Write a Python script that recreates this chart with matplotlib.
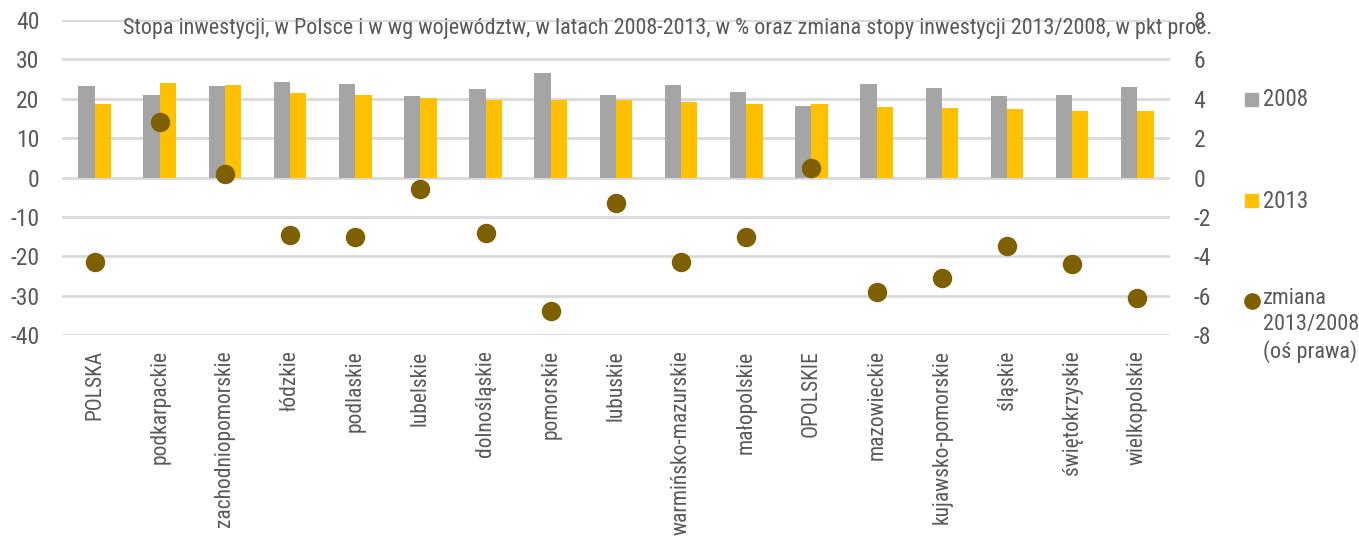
import matplotlib
matplotlib.use("Agg")
import matplotlib.pyplot as plt
import numpy as np
from matplotlib.patches import Rectangle

plt.rcParams['font.family'] = ['Roboto Condensed', 'DejaVu Sans']
plt.rcParams['axes.unicode_minus'] = False

regions = ["POLSKA", "podkarpackie", "zachodniopomorskie", "łódzkie", "podlaskie",
           "lubelskie", "dolnośląskie", "pomorskie", "lubuskie", "warmińsko-mazurskie",
           "małopolskie", "OPOLSKIE", "mazowieckie", "kujawsko-pomorskie", "śląskie",
           "świętokrzyskie", "wielkopolskie"]
rate_2008 = [23.2, 21.1, 23.3, 24.3, 23.7, 20.7, 22.6, 26.5, 20.9, 23.6,
             21.7, 18.2, 23.7, 22.8, 20.8, 21.1, 22.9]
rate_2013 = [18.8, 24.0, 23.6, 21.4, 20.9, 20.2, 19.8, 19.7, 19.7, 19.3,
             18.7, 18.7, 17.9, 17.6, 17.3, 16.8, 16.8]
change = [-4.3, 2.8, 0.2, -2.9, -3.0, -0.6, -2.8, -6.8, -1.3, -4.3,
          -3.0, 0.5, -5.8, -5.1, -3.5, -4.4, -6.1]

title = ("Stopa inwestycji, w Polsce i w wg województw, w latach 2008-2013, w % "
         "oraz zmiana stopy inwestycji 2013/2008, w pkt proc.")

GRAY = "#A5A5A5"
YELLOW = "#FFC000"
OLIVE = "#7F6000"
TXT = "#595959"
GRID = "#D9D9D9"

fig = plt.figure(figsize=(13.59, 5.41), dpi=100)
ax = fig.add_axes([0.0456, 0.3808, 0.8153, 0.582])
ax2 = ax.twinx()

x = np.arange(len(regions))
w = 0.25
ax.bar(x - w / 2, rate_2008, w, color=GRAY, zorder=2)
ax.bar(x + w / 2, rate_2013, w, color=YELLOW, zorder=2)
ax2.plot(x, change, 'o', color=OLIVE, markersize=13, zorder=3)

ax.set_xlim(-0.5, len(regions) - 0.5)
ax.set_ylim(-40, 40)
ax.set_yticks(np.arange(-40, 41, 10))
ax2.set_ylim(-8, 8)
ax2.set_yticks(np.arange(-8, 9, 2))

ax.yaxis.grid(True, color=GRID, linewidth=2, zorder=0)
ax.set_axisbelow(True)
for a in (ax, ax2):
    for s in a.spines.values():
        s.set_visible(False)

ax.set_xticks(x)
ax.set_xticklabels(regions, rotation=90, va='top', ha='center')
ax.tick_params(axis='x', length=0, pad=11, labelsize=15.5, labelcolor=TXT)
ax.tick_params(axis='y', length=0, pad=16, labelsize=17, labelcolor=TXT)
ax2.tick_params(axis='y', length=0, pad=17, labelsize=17, labelcolor=TXT)

fig.text(0.491, 0.948, title, ha='center', va='center', fontsize=15.9, color=TXT)

# legend drawn by hand to keep the Excel-like layout
H, W = 541.0, 1359.0
fig.add_artist(Rectangle((1245 / W, 1 - 106 / H), 13 / W, 13 / H, color=GRAY,
                         transform=fig.transFigure))
fig.text(1263 / W, 1 - 100 / H, "2008", fontsize=16.5, color=TXT, va='center')
fig.add_artist(Rectangle((1245 / W, 1 - 207 / H), 13 / W, 13 / H, color=YELLOW,
                         transform=fig.transFigure))
fig.text(1263 / W, 1 - 201 / H, "2013", fontsize=16.5, color=TXT, va='center')
fig.add_artist(plt.Line2D([1252 / W], [1 - 301 / H], marker='o', markersize=11,
                          color=OLIVE, transform=fig.transFigure))
fig.text(1263 / W, 1 - 288 / H, "zmiana\n2013/2008\n(oś prawa)", fontsize=16,
         color=TXT, va='top', linespacing=1.3)

fig.savefig("out.png", dpi=100)
